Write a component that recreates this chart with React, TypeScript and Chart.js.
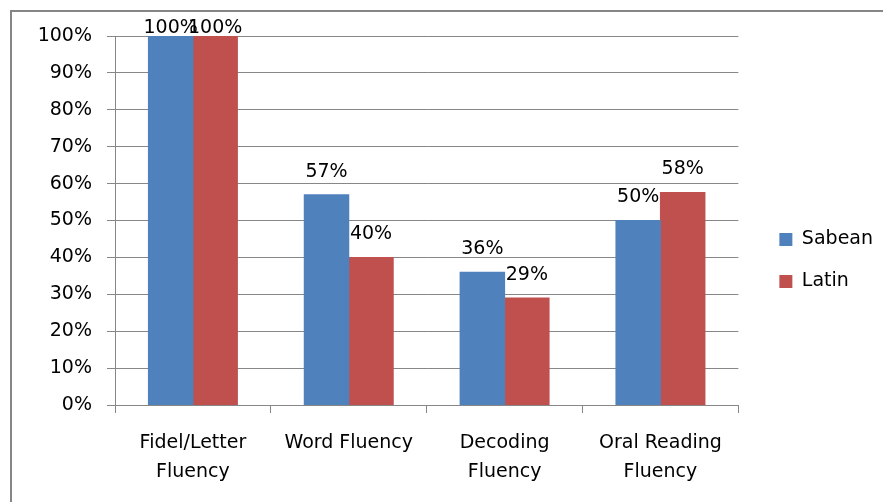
import React, { useEffect, useRef } from "react";
import { Chart, registerables } from "chart.js";

Chart.register(...registerables);

const categories: (string | string[])[] = [
  ["Fidel/Letter", "Fluency"],
  "Word Fluency",
  ["Decoding", "Fluency"],
  ["Oral Reading", "Fluency"],
];
const seriesNames = ["Sabean", "Latin"];
const sabeanValues = [100, 57, 36, 50];
const latinValues = [100, 40, 29, 57.6];
const seriesColors = ["#4F81BD", "#C0504D"];

const FONT = "'DejaVu Sans', sans-serif";
const GRID = "#878787";

const dataLabels = {
  id: "dataLabels",
  afterDatasetsDraw(chart: any) {
    const ctx = chart.ctx;
    ctx.save();
    ctx.font = `19px ${FONT}`;
    ctx.fillStyle = "#000";
    ctx.textAlign = "center";
    ctx.textBaseline = "middle";
    chart.data.datasets.forEach((ds: any, di: number) => {
      const meta = chart.getDatasetMeta(di);
      meta.data.forEach((bar: any, i: number) => {
        const v = ds.data[i] as number;
        const y = Math.max(bar.y - 23, chart.chartArea.top - 8);
        ctx.fillText(Math.round(v) + "%", bar.x, y);
      });
    });
    ctx.restore();
  },
};

export default function App() {
  const ref = useRef<HTMLCanvasElement | null>(null);

  useEffect(() => {
    if (!ref.current) return;
    const chart = new Chart(ref.current, {
      type: "bar",
      data: {
        labels: categories,
        datasets: [
          {
            label: seriesNames[0],
            data: sabeanValues,
            backgroundColor: seriesColors[0],
            borderWidth: 0,
            inflateAmount: 0.5,
            barPercentage: 1,
            categoryPercentage: 0.571,
          },
          {
            label: seriesNames[1],
            data: latinValues,
            backgroundColor: seriesColors[1],
            borderWidth: 0,
            inflateAmount: 0.5,
            barPercentage: 1,
            categoryPercentage: 0.571,
          },
        ],
      },
      options: {
        responsive: false,
        animation: false,
        devicePixelRatio: 1,
        layout: { padding: { top: 36, bottom: 35, left: 0, right: 0 } },
        plugins: {
          legend: {
            position: "right",
            labels: {
              boxWidth: 13,
              boxHeight: 13,
              padding: 23,
              color: "#000",
              font: { family: FONT, size: 19 },
            },
          },
          tooltip: { enabled: false },
        },
        scales: {
          x: {
            grid: {
              display: true,
              drawOnChartArea: false,
              drawTicks: true,
              tickLength: 8,
              color: GRID,
              offset: true,
            },
            border: { color: GRID },
            ticks: {
              color: "#000",
              font: { family: FONT, size: 19, lineHeight: 1.5 },
              padding: 16,
              maxRotation: 0,
              autoSkip: false,
            },
            afterFit: (s: any) => {
              s.height = 80;
            },
          },
          y: {
            min: 0,
            max: 100,
            ticks: {
              stepSize: 10,
              callback: (v: any) => v + "%",
              padding: 15,
              color: "#000",
              font: { family: FONT, size: 19 },
            },
            grid: { color: GRID, tickLength: 8 },
            border: { color: GRID },
            afterFit: (s: any) => {
              s.width = 115;
            },
          },
          y2: {
            position: "right",
            display: true,
            grid: { display: false, drawTicks: false },
            border: { display: false },
            ticks: { display: false },
            afterFit: (s: any) => {
              s.width = 18;
            },
          },
        },
      } as any,
      plugins: [dataLabels],
    });
    return () => chart.destroy();
  }, []);

  return (
    <div
      style={{
        position: "absolute",
        left: 0,
        top: 0,
        width: 883,
        height: 502,
        overflow: "hidden",
        background: "#fff",
      }}
    >
      <div
        style={{
          position: "absolute",
          left: 10,
          top: 10,
          width: 950,
          height: 560,
          border: "2px solid #868686",
        }}
      />
      <canvas
        ref={ref}
        width={883}
        height={520}
        style={{ position: "absolute", left: 0, top: 0, width: 883, height: 520 }}
      />
    </div>
  );
}
